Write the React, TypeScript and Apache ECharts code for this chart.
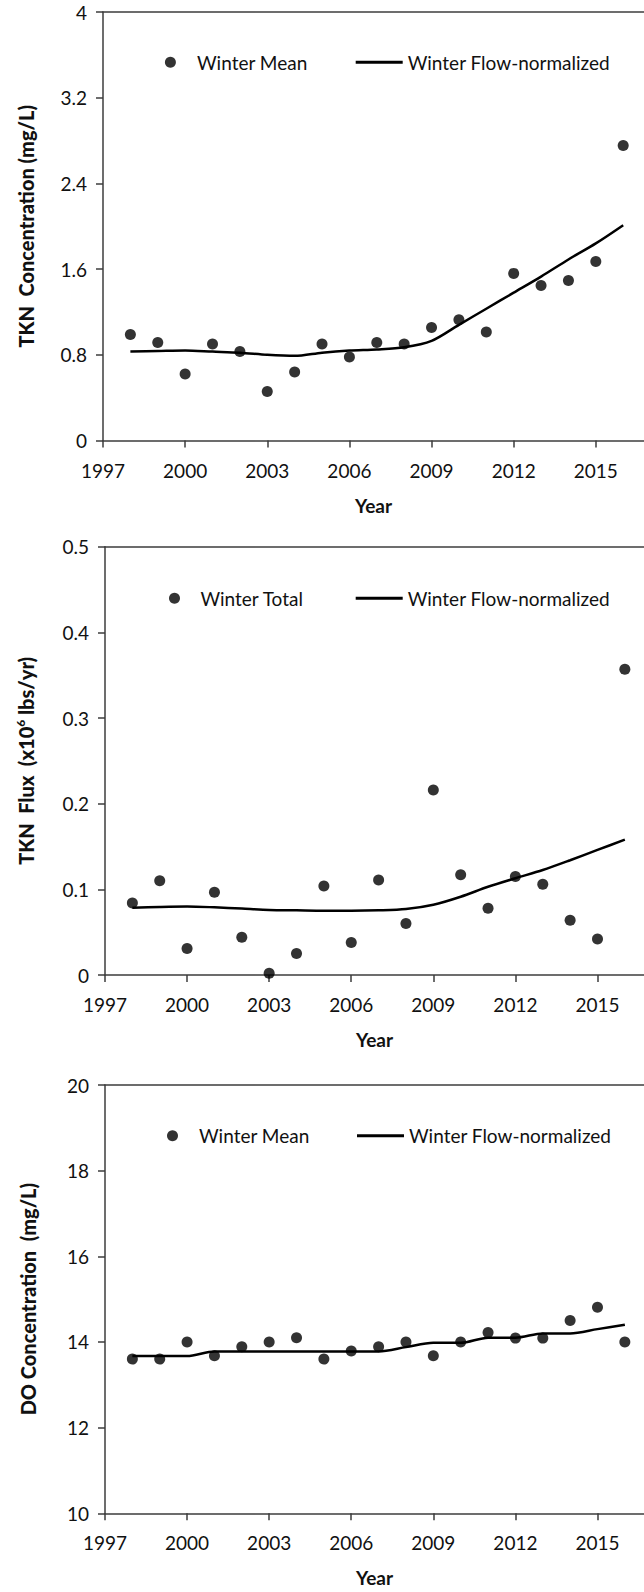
import React, { useEffect, useRef } from "react";
import * as echarts from "echarts";

const years = [1998, 1999, 2000, 2001, 2002, 2003, 2004, 2005, 2006, 2007, 2008, 2009, 2010, 2011, 2012, 2013, 2014, 2015, 2016];

const tknMean = [0.99, 0.915, 0.62, 0.9, 0.83, 0.457, 0.64, 0.9, 0.78, 0.915, 0.9, 1.055, 1.127, 1.012, 1.56, 1.447, 1.494, 1.671, 2.754];
const tknMeanFN = [0.83, 0.835, 0.84, 0.83, 0.82, 0.8, 0.79, 0.82, 0.84, 0.85, 0.87, 0.93, 1.08, 1.23, 1.38, 1.53, 1.69, 1.84, 2.01];

const tknFlux = [0.084, 0.11, 0.031, 0.0965, 0.044, 0.002, 0.025, 0.104, 0.038, 0.111, 0.06, 0.216, 0.117, 0.078, 0.115, 0.106, 0.064, 0.042, 0.357];
const tknFluxFN = [0.0786, 0.0795, 0.08, 0.079, 0.0775, 0.076, 0.0755, 0.075, 0.075, 0.0755, 0.077, 0.082, 0.0914, 0.103, 0.113, 0.1226, 0.134, 0.146, 0.158];

const doMean = [13.6, 13.6, 14.0, 13.68, 13.89, 14.0, 14.1, 13.6, 13.79, 13.89, 14.0, 13.68, 14.0, 14.22, 14.09, 14.09, 14.5, 14.81, 14.0];
const doMeanFN = [13.67, 13.67, 13.67, 13.78, 13.78, 13.78, 13.78, 13.78, 13.78, 13.78, 13.88, 13.98, 13.98, 14.1, 14.1, 14.2, 14.2, 14.3, 14.4];

const yearTicks = [1997, 2000, 2003, 2006, 2009, 2012, 2015];

const FONT = "Lato";
const AXIS_COLOR = "#3c3c3c";
const TEXT_COLOR = "#111";

const pair = (vals: number[]) => years.map((y, i) => [y, vals[i]]);

export default function App() {
  const ref = useRef<HTMLDivElement>(null);
  useEffect(() => {
    if (!ref.current) return;
    const chart = echarts.init(ref.current, null, { renderer: "svg" });

    const grids = [
      { left: 103, top: 12, right: 0, height: 428.5, xmax: 2016.76 },
      { left: 105, top: 546.7, right: 0, height: 428.3, xmax: 2016.7 },
      { left: 105, top: 1085, right: 0, height: 428.3, xmax: 2016.7 },
    ];

    const xLabelFmt = (v: number) => (yearTicks.indexOf(Math.round(v * 1000) / 1000) >= 0 ? String(v) : "");

    const xAxes: any[] = [];
    grids.forEach((g, i) => {
      xAxes.push({
        type: "value",
        gridIndex: i,
        min: 1997,
        max: g.xmax,
        interval: 3,
        position: "bottom",
        name: "Year",
        nameLocation: "middle",
        nameGap: 55,
        nameTextStyle: { fontFamily: FONT, fontWeight: "bold", fontSize: 19, color: TEXT_COLOR },
        axisLine: { show: true, lineStyle: { color: AXIS_COLOR, width: 1.5 } },
        axisTick: { show: true, inside: false, length: 7, lineStyle: { color: AXIS_COLOR, width: 1.5 } },
        axisLabel: { formatter: xLabelFmt, margin: 20, fontFamily: FONT, fontSize: 19, color: TEXT_COLOR, showMaxLabel: false },
        splitLine: { show: false },
      });
      xAxes.push({
        type: "value",
        gridIndex: i,
        min: 1997,
        max: g.xmax,
        position: "top",
        axisLine: { show: true, onZero: false, lineStyle: { color: AXIS_COLOR, width: 1.5 } },
        axisTick: { show: false },
        axisLabel: { show: false },
        splitLine: { show: false },
      });
    });

    const yCommon = {
      type: "value",
      nameLocation: "middle",
      nameGap: 67,
      axisLine: { show: true, lineStyle: { color: AXIS_COLOR, width: 1.5 } },
      axisTick: { show: true, inside: false, length: 7, lineStyle: { color: AXIS_COLOR, width: 1.5 } },
      axisLabel: { margin: 16, fontFamily: FONT, fontSize: 19, color: TEXT_COLOR },
      splitLine: { show: false },
    };
    const nameStyle = {
      fontFamily: FONT,
      fontWeight: 900,
      fontSize: 20,
      color: TEXT_COLOR,
      rich: {
        sup: { fontFamily: FONT, fontWeight: 900, fontSize: 12, color: TEXT_COLOR, verticalAlign: "top", lineHeight: 24 },
      },
    };
    const yAxes = [
      { ...yCommon, gridIndex: 0, min: 0, max: 4, interval: 0.8, name: "TKN  Concentration (mg/L)", nameTextStyle: nameStyle },
      { ...yCommon, gridIndex: 1, min: 0, max: 0.5, interval: 0.1, name: "TKN  Flux  (x10{sup|6} lbs/yr)", nameTextStyle: nameStyle },
      { ...yCommon, gridIndex: 2, min: 10, max: 20, interval: 2, name: "DO Concentration  (mg/L)", nameTextStyle: nameStyle },
    ];

    const scatterNames = ["Winter Mean", "Winter Total", "Winter Mean"];
    const scatterData = [tknMean, tknFlux, doMean];
    const lineData = [tknMeanFN, tknFluxFN, doMeanFN];

    const series: any[] = [];
    for (let i = 0; i < 3; i++) {
      series.push({
        type: "scatter",
        name: scatterNames[i],
        xAxisIndex: i * 2,
        yAxisIndex: i,
        symbol: "circle",
        symbolSize: 11,
        itemStyle: { color: "#000" },
        data: pair(scatterData[i]),
        z: 3,
      });
      series.push({
        type: "line",
        name: "Winter Flow-normalized",
        xAxisIndex: i * 2,
        yAxisIndex: i,
        symbol: "none",
        smooth: 0.3,
        lineStyle: { color: "#000", width: 2.5 },
        itemStyle: { color: "#000" },
        data: pair(lineData[i]),
        z: 2,
      });
    }

    const legendY = [62.3, 598.3, 1135.7];
    const dotX = [170.4, 174.5, 172.5];
    const dotTextX = [197, 200.4, 199];
    const lineX = [355.7, 355.7, 357];
    const legendText = { fontFamily: FONT, fontSize: 19, color: TEXT_COLOR, lineHeight: 20 };
    const legends: any[] = [];
    for (let i = 0; i < 3; i++) {
      legends.push({
        left: dotX[i] - 5.5,
        top: legendY[i] - 10,
        padding: 0,
        selectedMode: false,
        itemWidth: 11,
        itemHeight: 11,
        data: [{ name: scatterNames[i], icon: "circle" }],
        textStyle: { ...legendText, padding: [0, 0, 0, dotTextX[i] - (dotX[i] - 5.5) - 16] },
      });
      legends.push({
        left: lineX[i],
        top: legendY[i] - 10,
        padding: 0,
        selectedMode: false,
        itemWidth: 47,
        itemHeight: 3,
        data: [{ name: "Winter Flow-normalized", icon: "rect" }],
        textStyle: { ...legendText },
      });
    }

    chart.setOption({
      animation: false,
      backgroundColor: "#fff",
      textStyle: { fontFamily: FONT },
      grid: grids.map((g) => ({ left: g.left, top: g.top, right: g.right, height: g.height, containLabel: false })),
      xAxis: xAxes,
      yAxis: yAxes,
      legend: legends,
      series,
    });
    return () => chart.dispose();
  }, []);

  return <div ref={ref} style={{ position: "absolute", left: 0, top: 0, width: 644, height: 1592 }} />;
}
